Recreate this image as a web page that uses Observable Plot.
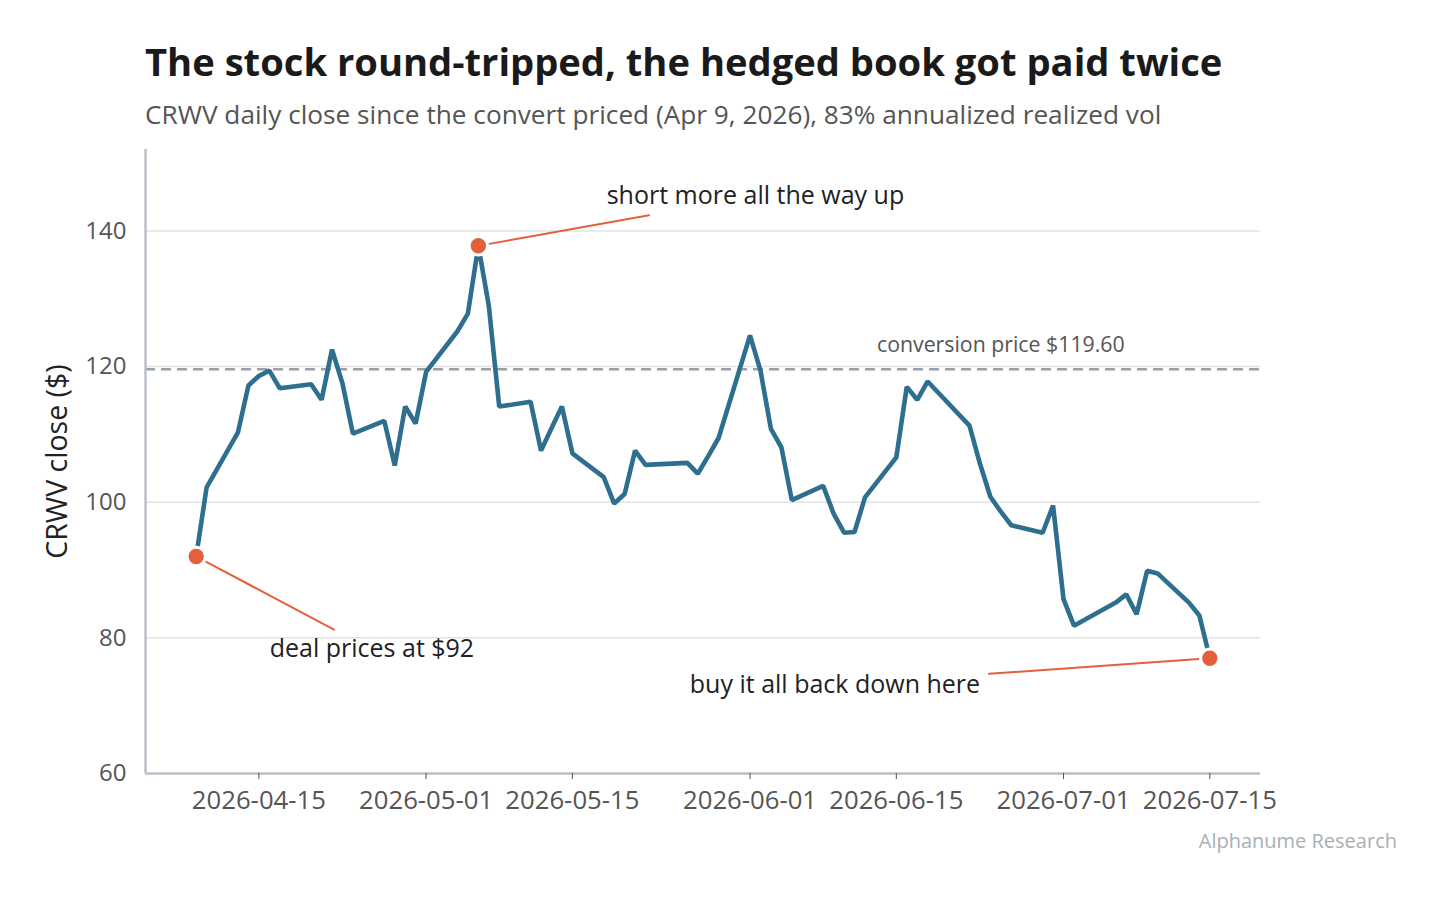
<!DOCTYPE html>
<html>
<head>
<meta charset="utf-8">
<script src="https://cdn.jsdelivr.net/npm/d3@7"></script>
<script src="https://cdn.jsdelivr.net/npm/@observablehq/plot@0.6"></script>
<style>
  html, body { margin: 0; padding: 0; background: #fff; }
  body { width: 1441px; height: 898px; position: relative; overflow: hidden; font-family: "Open Sans", "Noto Sans", sans-serif; }
  #title { position: absolute; left: 145px; top: 39px; font-size: 37px; font-weight: 700; color: #1a1a1a; line-height: 44px; white-space: nowrap; }
  #subtitle { position: absolute; left: 145px; top: 98px; font-size: 25px; color: #555; line-height: 32px; white-space: nowrap; }
  #chart { position: absolute; left: 0; top: 140px; }
  #caption { position: absolute; right: 44px; top: 828px; font-size: 20px; color: #a9afb5; line-height: 26px; white-space: nowrap; }
</style>
</head>
<body>
<div id="title">The stock round-tripped, the hedged book got paid twice</div>
<div id="subtitle">CRWV daily close since the convert priced (Apr 9, 2026), 83% annualized realized vol</div>
<div id="chart"></div>
<div id="caption">Alphanume Research</div>
<script>
// ---- data ----
const dates = [
  "2026-04-09","2026-04-10","2026-04-13","2026-04-14","2026-04-15","2026-04-16","2026-04-17",
  "2026-04-20","2026-04-21","2026-04-22","2026-04-23","2026-04-24",
  "2026-04-27","2026-04-28","2026-04-29","2026-04-30","2026-05-01",
  "2026-05-04","2026-05-05","2026-05-06","2026-05-07","2026-05-08",
  "2026-05-11","2026-05-12","2026-05-13","2026-05-14","2026-05-15",
  "2026-05-18","2026-05-19","2026-05-20","2026-05-21","2026-05-22",
  "2026-05-26","2026-05-27","2026-05-28","2026-05-29",
  "2026-06-01","2026-06-02","2026-06-03","2026-06-04","2026-06-05",
  "2026-06-08","2026-06-09","2026-06-10","2026-06-11","2026-06-12",
  "2026-06-15","2026-06-16","2026-06-17","2026-06-18",
  "2026-06-22","2026-06-23","2026-06-24","2026-06-25","2026-06-26",
  "2026-06-29","2026-06-30","2026-07-01","2026-07-02",
  "2026-07-06","2026-07-07","2026-07-08","2026-07-09","2026-07-10",
  "2026-07-13","2026-07-14","2026-07-15"
];
const closes = [
  92.0, 102.2, 110.3, 117.2, 118.6, 119.4, 116.8,
  117.4, 115.1, 122.5, 117.5, 110.1,
  112.0, 105.4, 114.1, 111.6, 119.2,
  125.2, 127.8, 137.8, 129.0, 114.1,
  114.8, 107.6, 110.9, 114.1, 107.2,
  103.7, 99.8, 101.2, 107.6, 105.5,
  105.8, 104.2, 106.8, 109.5,
  124.6, 119.4, 110.8, 108.1, 100.3,
  102.4, 98.3, 95.5, 95.6, 100.7,
  106.6, 117.0, 115.1, 117.8,
  111.3, 105.7, 100.8, 98.6, 96.6,
  95.5, 99.5, 85.7, 81.8,
  85.2, 86.4, 83.5, 89.9, 89.5,
  85.2, 83.3, 77.0
];
const xTickDates = ["2026-04-15","2026-05-01","2026-05-15","2026-06-01","2026-06-15","2026-07-01","2026-07-15"];
const yTicks = [60, 80, 100, 120, 140];
const yGrid = [80, 100, 120, 140];
const yDomain = [60, 152];

const conversionPrice = 119.6;
const conversionLabel = "conversion price $119.60";
const conversionLabelDate = "2026-06-25T00:00Z";
const conversionLabelValue = 123.1;

const annDates = ["2026-04-09", "2026-05-06", "2026-07-15"];
const annValues = [92, 137.8, 77];
const annLabels = ["deal prices at $92", "short more all the way up", "buy it all back down here"];
const annLineEndDates = ["2026-04-22T04:30Z", "2026-05-22T08:00Z", "2026-06-23T20:40Z"];
const annLineEndValues = [81.2, 142.3, 74.7];
const annTextDates = ["2026-04-25T19:40Z", "2026-06-01T12:30Z", "2026-06-09T03:00Z"];
const annTextValues = [78.3, 145.1, 73.1];

// ---- build tables ----
const series = dates.map((d, i) => ({date: new Date(d), close: closes[i]}));
const ann = annDates.map((d, i) => ({
  date: new Date(d), value: annValues[i], label: annLabels[i],
  endDate: new Date(annLineEndDates[i]), endValue: annLineEndValues[i],
  textDate: new Date(annTextDates[i]), textValue: annTextValues[i]
}));
const t0 = series[0].date, t1 = series[series.length - 1].date;
const pad = (t1 - t0) * 0.05;
const xDomain = [new Date(+t0 - pad), new Date(+t1 + pad)];

const ORANGE = "#e4603a";
const BLUE = "#2e6e8e";
const AXIS = "#b9c0c7";

const chart = Plot.plot({
  width: 1441,
  height: 680,
  marginLeft: 145,
  marginRight: 181,
  marginTop: 9,
  marginBottom: 47,
  style: {fontFamily: "'Open Sans', 'Noto Sans', sans-serif", fontSize: "24px", color: "#555", background: "transparent"},
  x: {type: "utc", domain: xDomain},
  y: {domain: yDomain},
  marks: [
    Plot.gridY(yGrid, {stroke: "#e2e2e2", strokeOpacity: 1, strokeWidth: 1.5}),
    Plot.ruleY([conversionPrice], {stroke: "#9aa0a6", strokeWidth: 2.6, strokeDasharray: "10,6"}),
    Plot.text([conversionLabel], {x: () => new Date(conversionLabelDate), y: () => conversionLabelValue, fontSize: 21.3, fill: "#555"}),
    Plot.ruleY([yDomain[0]], {stroke: AXIS, strokeWidth: 2.5}),
    Plot.ruleX([xDomain[0]], {stroke: AXIS, strokeWidth: 2.5}),
    Plot.axisY({ticks: yTicks, tickSize: 0, tickPadding: 19, label: null, fontSize: 24, color: "#555"}),
    Plot.axisX({ticks: xTickDates.map(d => new Date(d)), tickFormat: d3.utcFormat("%Y-%m-%d"), tickSize: 6, tickPadding: 11, label: null, fontSize: 25.7, color: "#555"}),
    Plot.text(["CRWV close ($)"], {frameAnchor: "left", textAnchor: "middle", rotate: -90, dx: -88, fontSize: 28.5, fill: "#222"}),
    Plot.line(series, {x: "date", y: "close", stroke: BLUE, strokeWidth: 4.6, strokeLinejoin: "miter", strokeLinecap: "butt"}),
    Plot.arrow(ann, {x1: "date", y1: "value", x2: "endDate", y2: "endValue", stroke: ORANGE, strokeWidth: 2, headLength: 0, insetStart: 11}),
    Plot.dot(ann, {x: "date", y: "value", r: 9.2, fill: ORANGE, stroke: "white", strokeWidth: 3}),
    Plot.text(ann, {x: "textDate", y: "textValue", text: "label", fontSize: 25, fill: "#222"})
  ]
});
document.getElementById("chart").appendChild(chart);

// fit header text widths to the reference
function fit(id, target) {
  const el = document.getElementById(id);
  const w = el.getBoundingClientRect().width;
  const fs = parseFloat(getComputedStyle(el).fontSize);
  el.style.fontSize = (fs * target / w) + "px";
}
fit("title", 1078);
fit("subtitle", 1017);
</script>
</body>
</html>
